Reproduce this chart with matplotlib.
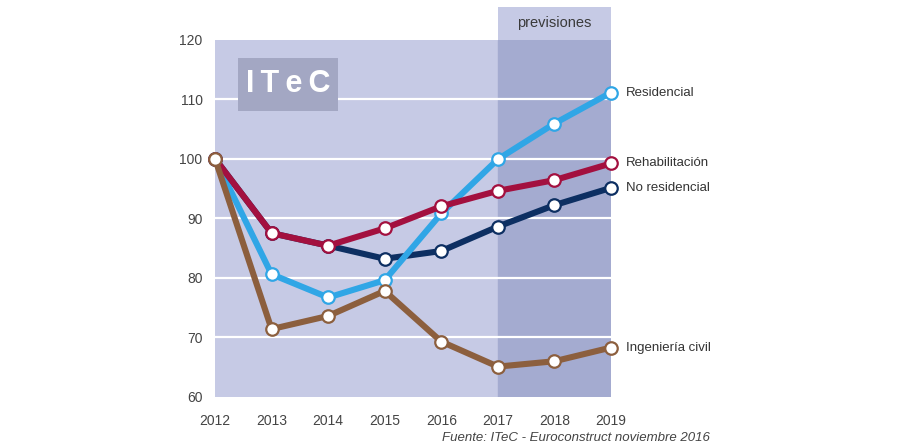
import matplotlib
matplotlib.use("Agg")
import matplotlib.pyplot as plt
from matplotlib.patches import Rectangle

plt.rcParams['font.family'] = ['Liberation Sans', 'DejaVu Sans']

years = [2012, 2013, 2014, 2015, 2016, 2017, 2018, 2019]
residencial = [100, 80.6, 76.7, 79.6, 90.8, 99.9, 105.9, 111.1]
rehabilitacion = [100, 87.5, 85.4, 88.3, 92.0, 94.6, 96.4, 99.2]
no_residencial = [100, 87.5, 85.4, 83.2, 84.5, 88.6, 92.2, 95.1]
ing_civil = [100, 71.4, 73.6, 77.8, 69.3, 65.1, 66.0, 68.3]
yticks = [60, 70, 80, 90, 100, 110, 120]
grid_vals = [70, 80, 90, 100, 110]

series = [
    ("No residencial", no_residencial, "#0d2f62"),
    ("Residencial", residencial, "#30a6e6"),
    ("Rehabilitación", rehabilitacion, "#a3103f"),
    ("Ingeniería civil", ing_civil, "#8c5f3e"),
]

fig = plt.figure(figsize=(9, 4.47), dpi=100)
ax = fig.add_axes([215/900, 1-397/447, 396/900, 357.5/447])
ax.set_xlim(2012, 2019)
ax.set_ylim(60, 120)
ax.set_facecolor("#c6cae5")

# forecast region
ax.axvspan(2017, 2019, color="#a4abd0", zorder=0)
hdr = Rectangle((2017, 120), 2, 5.45, facecolor="#c6cae5", edgecolor="none",
                clip_on=False, zorder=0)
ax.add_patch(hdr)
ax.text(2018, 122.75, "previsiones", ha="center", va="center", fontsize=10.5,
        color="#3a3a3a")

for g in grid_vals:
    ax.axhline(g, color="white", lw=1.6, zorder=1)

# ITeC box
box = Rectangle((2012.41, 108.0), 1.76, 8.9, facecolor="#a3a7c3",
                edgecolor="none", zorder=1)
ax.add_patch(box)
ax.text(2013.29, 112.45, "I\u2009T\u2009e\u2009C", ha="center", va="center",
        fontsize=22, fontweight="bold", color="white", zorder=2)

for name, vals, col in series:
    ax.plot(years, vals, color=col, lw=4.4, marker="o", markersize=9,
            markerfacecolor="white", markeredgecolor=col, markeredgewidth=1.6,
            zorder=3, clip_on=False, solid_joinstyle="round")
    ax.text(2019.26, vals[-1], name, ha="left", va="center", fontsize=9.5,
            color="#333333")

for s in ax.spines.values():
    s.set_visible(False)
ax.set_yticks(yticks)
ax.set_xticks(years)
ax.tick_params(length=0, labelsize=10, colors="#444444")
ax.tick_params(axis="y", pad=9)
ax.tick_params(axis="x", pad=12)

fig.text(710/900, 1-438/447, "Fuente: ITeC - Euroconstruct noviembre 2016",
         ha="right", va="center", fontsize=9.5, style="italic", color="#444444")

fig.savefig("out.png", dpi=100)
